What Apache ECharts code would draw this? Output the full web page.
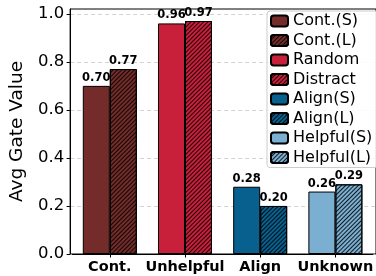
<!DOCTYPE html>
<html>
<head>
<meta charset="utf-8">
<script src="https://cdn.jsdelivr.net/npm/echarts@6/dist/echarts.min.js"></script>
<style>
  html, body { margin: 0; padding: 0; background: #fff; }
  #chart { width: 376px; height: 276px; }
</style>
</head>
<body>
<div id="chart"></div>
<script>
// data
var categories = ['Cont.', 'Unhelpful', 'Align', 'Unknown'];
var shortVals = [0.70, 0.96, 0.28, 0.26];
var longVals = [0.77, 0.97, 0.20, 0.29];
var shortNames = ['Cont.(S)', 'Random', 'Align(S)', 'Helpful(S)'];
var longNames = ['Cont.(L)', 'Distract', 'Align(L)', 'Helpful(L)'];
var yTicks = [0, 0.2, 0.4, 0.6, 0.8, 1.0];

var colors = ['#732c29', '#c8203a', '#07608e', '#7aafd2'];
var font = 'DejaVu Sans';

var hatch = {
    symbol: 'rect',
    symbolSize: 1,
    dashArrayX: [1, 0],
    dashArrayY: [1, 2],
    rotation: -Math.PI / 4,
    color: 'rgba(0,0,0,0.85)'
};

function makeSeries(name, idx, value, color, stack, hatched) {
    var data = categories.map(function (c, i) { return i === idx ? value : null; });
    var style = { color: color, borderColor: '#000', borderWidth: 1 };
    if (hatched) style.decal = hatch;
    return {
        name: name,
        type: 'bar',
        xAxisIndex: 1,
        yAxisIndex: 1,
        stack: stack,
        barWidth: 27,
        barGap: '0%',
        data: data,
        itemStyle: style,
        label: {
            show: true,
            position: 'top',
            distance: 2,
            fontFamily: font,
            fontWeight: 'bold',
            fontSize: 11.5,
            color: '#000',
            formatter: function (p) { return p.value == null ? '' : p.value.toFixed(2); }
        }
    };
}

var series = [];
var legendNames = [];
for (var i = 0; i < categories.length; i++) {
    series.push(makeSeries(shortNames[i], i, shortVals[i], colors[i], 'S', false));
    series.push(makeSeries(longNames[i], i, longVals[i], colors[i], 'L', true));
    legendNames.push(shortNames[i], longNames[i]);
}

var myChart = echarts.init(document.getElementById('chart'), null, { renderer: 'canvas' });

var option = {
    animation: false,
    backgroundColor: '#fff',
    grid: [
        { left: 69, right: -2, top: 9, bottom: 22, show: true, borderColor: '#000', borderWidth: 1, containLabel: false },
        { left: 72.2, right: 1, top: 9, bottom: 22, containLabel: false }
    ],
    xAxis: [
        { type: 'value', gridIndex: 0, min: 0, max: 1, show: false },
        {
            type: 'category',
            gridIndex: 1,
            data: categories,
            axisLine: { show: true, lineStyle: { color: '#000', width: 1 } },
            axisTick: { show: true, alignWithLabel: true, length: 3.5, lineStyle: { color: '#000' } },
            axisLabel: { fontFamily: font, fontWeight: 'bold', fontSize: 14.5, color: '#000', margin: 6, interval: 0 }
        }
    ],
    yAxis: [
        {
            type: 'value',
            gridIndex: 0,
            min: 0,
            max: 1.02,
            interval: 0.2,
            name: 'Avg Gate Value',
            nameLocation: 'middle',
            nameGap: 40,
            nameTextStyle: { fontFamily: font, fontSize: 18.5, color: '#000' },
            axisLine: { show: true, lineStyle: { color: '#000', width: 1 } },
            axisTick: { show: true, length: 3.5, lineStyle: { color: '#000' }, customValues: yTicks },
            axisLabel: {
                fontFamily: font, fontSize: 16.5, color: '#000', margin: 6,
                customValues: yTicks,
                formatter: function (v) { return v.toFixed(1); }
            },
            splitLine: { show: true, lineStyle: { color: '#c8c8c8', type: [4, 3], width: 0.8 } }
        },
        { type: 'value', gridIndex: 1, min: 0, max: 1.02, show: false }
    ],
    legend: {
        orient: 'vertical',
        left: 267,
        top: 11,
        padding: [2, 5, 2, 3],
        itemWidth: 17,
        itemHeight: 11,
        itemGap: 3.5,
        backgroundColor: 'rgba(255,255,255,0.85)',
        borderColor: '#ccc',
        borderWidth: 1,
        borderRadius: 3,
        data: legendNames,
        textStyle: { fontFamily: font, fontSize: 16, lineHeight: 15, color: '#000' }
    },
    series: series
};

myChart.setOption(option);
</script>
</body>
</html>
